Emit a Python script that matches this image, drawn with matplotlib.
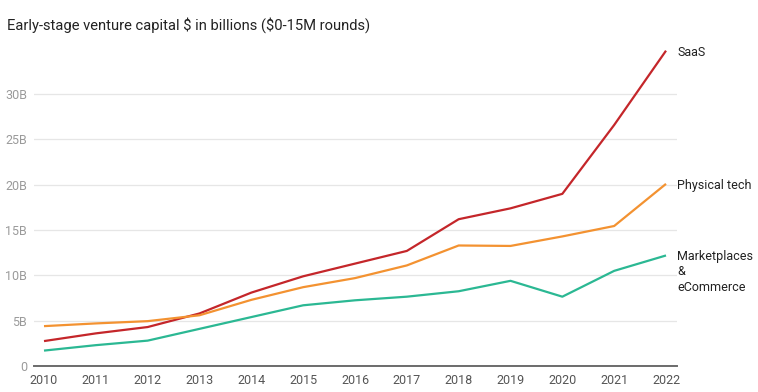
import matplotlib
matplotlib.use("Agg")
import matplotlib.pyplot as plt

years = [2010, 2011, 2012, 2013, 2014, 2015, 2016, 2017, 2018, 2019, 2020, 2021, 2022]
saas = [2.75, 3.6, 4.3, 5.8, 8.1, 9.9, 11.3, 12.7, 16.2, 17.4, 19.0, 26.6, 34.8]
physical = [4.4, 4.7, 4.95, 5.6, 7.3, 8.7, 9.7, 11.1, 13.3, 13.25, 14.3, 15.45, 20.1]
marketplaces = [1.7, 2.3, 2.8, 4.1, 5.4, 6.7, 7.25, 7.65, 8.25, 9.4, 7.65, 10.5, 12.2]

series = [
    ("SaaS", saas, "#c4262a"),
    ("Physical tech", physical, "#f39231"),
    ("Marketplaces\n&\neCommerce", marketplaces, "#2bb893"),
]

yticks = [0, 5, 10, 15, 20, 25, 30]
ytick_labels = ["0", "5B", "10B", "15B", "20B", "25B", "30B"]

plt.rcParams["font.family"] = ["Roboto", "DejaVu Sans"]

fig = plt.figure(figsize=(7.58, 3.92), dpi=100)
ax = fig.add_axes([34 / 758, 1 - 366 / 392, (677 - 34) / 758, (366 - 39.8) / 392])

for name, vals, color in series:
    ax.plot(years, vals, color=color, linewidth=1.6, solid_capstyle="butt", zorder=3)
    multi = "\n" in name
    ax.annotate(name, xy=(years[-1], vals[-1]), xytext=(8, 4 if multi else -1),
                textcoords="offset points", va="top" if multi else "center", ha="left",
                fontsize=9, color="#222222", linespacing=1.25, annotation_clip=False)

ax.set_xlim(2009.807, 2022.212)
ax.set_ylim(0, 36)
ax.set_xticks(years)
ax.set_xticklabels([str(y) for y in years], fontsize=9, color="#555555")
ax.set_yticks(yticks)
ax.set_yticklabels(ytick_labels, fontsize=9, color="#9a9a9a")
ax.tick_params(axis="x", length=0, pad=6)
ax.tick_params(axis="y", length=0, pad=5)

ax.grid(axis="y", color="#e6e6e6", linewidth=0.9)
ax.set_axisbelow(True)
for side in ["top", "right", "left"]:
    ax.spines[side].set_visible(False)
ax.spines["bottom"].set_color("#6b6b6b")
ax.spines["bottom"].set_linewidth(1.4)

fig.text(7 / 758, 1 - 25 / 392, r"Early-stage venture capital \$ in billions (\$0-15M rounds)",
         fontsize=10.6, color="#222222", va="center", ha="left")

fig.savefig("out.png", dpi=100)
